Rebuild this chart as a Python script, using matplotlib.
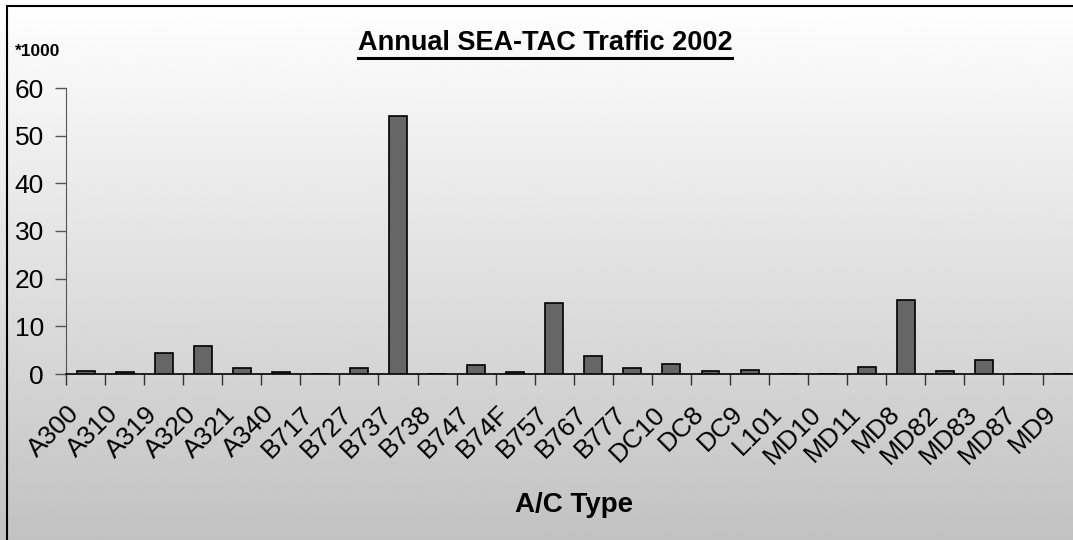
import numpy as np
import matplotlib
matplotlib.use("Agg")
import matplotlib.pyplot as plt
import matplotlib.transforms as mtrans
from matplotlib.lines import Line2D

plt.rcParams['font.family'] = ['Liberation Sans', 'DejaVu Sans']

# aircraft types and annual movements (thousands)
ac_types = ["A300", "A310", "A319", "A320", "A321", "A340", "B717", "B727",
            "B737", "B738", "B747", "B74F", "B757", "B767", "B777", "DC10",
            "DC8", "DC9", "L101", "MD10", "MD11", "MD8", "MD82", "MD83",
            "MD87", "MD9"]
traffic = [0.6, 0.35, 4.4, 5.9, 1.2, 0.35, 0.0, 1.2,
           54.2, 0.0, 1.8, 0.35, 14.9, 3.8, 1.2, 2.0,
           0.6, 0.9, 0.0, 0.0, 1.5, 15.5, 0.6, 2.9,
           0.0, 0.0]
y_ticks = [0, 10, 20, 30, 40, 50, 60]

W, H = 1073, 540
fig = plt.figure(figsize=(W / 100, H / 100), dpi=100)

# gradient background (white at top -> grey at bottom)
bg = fig.add_axes([0, 0, 1, 1], zorder=-10)
grad = np.linspace(1.0, 0.76, 256).reshape(-1, 1)
bg.imshow(grad, cmap="gray", vmin=0, vmax=1, aspect="auto",
          extent=[0, 1, 0, 1], origin="upper")
bg.set_axis_off()

# outer frame (right/bottom edges fall outside the image)
fig.add_artist(plt.Rectangle((7 / W, -0.05), 1.2, 1 - 6 / H + 0.05,
                             transform=fig.transFigure, fill=False,
                             edgecolor="black", linewidth=1.5))

n = len(ac_types)
x = np.arange(n)
step = 39.06  # px per category; the plot runs past the right edge
ax = fig.add_axes([66 / W, 1 - 374 / H, n * step / W, (374 - 88) / H])
ax.patch.set_alpha(0)
ax.bar(x, traffic, width=0.46, color="#666666", edgecolor="black",
       linewidth=1.2, zorder=3)

ax.set_xlim(-0.5, n - 0.5)
ax.set_ylim(0, 60)
ax.set_yticks(y_ticks)
ax.tick_params(axis="y", direction="out", length=8, width=1, color="#555555",
               labelsize=19, pad=8)
ax.set_xticks(np.arange(-0.5, n, 1.0))
ax.set_xticklabels([])
ax.tick_params(axis="x", direction="out", length=8, width=1, color="#333333")

for s in ["top", "right"]:
    ax.spines[s].set_visible(False)
ax.spines["left"].set_color("#555555")
ax.spines["bottom"].set_color("black")
ax.spines["bottom"].set_linewidth(1.2)

# rotated category labels
off = mtrans.ScaledTranslation(-10 / 100, -36 / 100, fig.dpi_scale_trans)
for i, lab in enumerate(ac_types):
    ax.text(i, 0, lab, transform=ax.get_xaxis_transform() + off,
            rotation=45, rotation_mode="anchor", ha="right", va="center",
            fontsize=19, clip_on=False)

fig.text(15 / W, 1 - 52 / H, "*1000", fontsize=12.5, fontweight="bold",
         ha="left", va="center")

title = fig.text(545 / W, 1 - 50 / H, "Annual SEA-TAC Traffic 2002",
                 fontsize=19.5, fontweight="bold", ha="center",
                 va="baseline")
fig.text(574 / W, 1 - 505 / H, "A/C Type", fontsize=20, fontweight="bold",
         ha="center", va="center")

# underline for title
fig.canvas.draw()
bb = title.get_window_extent(fig.canvas.get_renderer())
uy = (H - 58) / H
fig.add_artist(Line2D([bb.x0 / W, bb.x1 / W], [uy, uy],
                      transform=fig.transFigure, color="black",
                      linewidth=2.2))

fig.savefig("out.png", dpi=100)
